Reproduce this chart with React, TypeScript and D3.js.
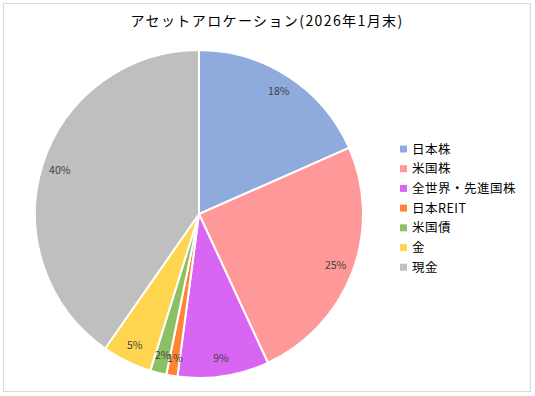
import React from 'react';
import { pie, arc } from 'd3';

const categories = ['日本株', '米国株', '全世界・先進国株', '日本REIT', '米国債', '金', '現金'];
const values = [18.4, 24.7, 9.0, 1.1, 1.6, 4.9, 40.3];
const colors = ['#8FAADC', '#FF9999', '#D966F2', '#FF8533', '#8CC065', '#FFD54F', '#BFBFBF'];
const title = 'アセットアロケーション(2026年1月末)';

const W = 535, H = 396;
const cx = 199, cy = 214, r = 164;
const font = '"Noto Sans CJK JP", "Noto Sans", sans-serif';

export default function App() {
  const data = categories.map((c, i) => ({ name: c, value: values[i], color: colors[i] }));
  const total = values.reduce((a, b) => a + b, 0);
  const slices = pie<any>().sort(null).value((d) => d.value)(data);
  const arcGen = arc<any>().innerRadius(0).outerRadius(r);
  const labelArc = arc<any>().innerRadius(146).outerRadius(146);

  return (
    <svg width={W} height={H} style={{ position: 'absolute', left: 0, top: 0 }}>
      <rect x={3.5} y={3.5} width={527} height={388} fill="#fff" stroke="#d9d9d9" />
      <text x={267} y={26} textAnchor="middle" fontFamily={font} fontSize={14} letterSpacing={1.4} fill="#000">{title}</text>
      <g transform={`translate(${cx},${cy})`}>
        {slices.map((s, i) => (
          <path key={i} d={arcGen(s) as string} fill={s.data.color} stroke="#fff" strokeWidth={2} />
        ))}
        {slices.map((s, i) => {
          const [x, y] = labelArc.centroid(s);
          return (
            <text key={i} x={x} y={y} dy="0.35em" textAnchor="middle" fontFamily={font} fontSize={10.5} fill="#404040">
              {Math.round((s.data.value / total) * 100)}%
            </text>
          );
        })}
      </g>
      <g fontFamily={font} fontSize={12.5} letterSpacing={0.5}>
        {data.map((d, i) => (
          <g key={i} transform={`translate(400,${149 + i * 19.7})`}>
            <rect x={0} y={-3.5} width={7} height={7} fill={d.color} />
            <text x={12} y={0} dy="0.36em" fill="#000">{d.name}</text>
          </g>
        ))}
      </g>
    </svg>
  );
}
